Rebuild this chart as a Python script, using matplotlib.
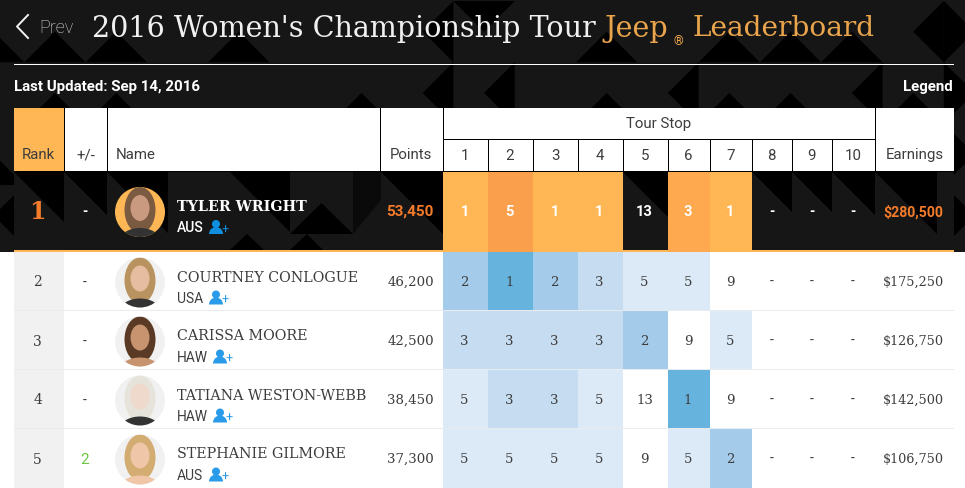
import matplotlib
matplotlib.use("Agg")
import matplotlib.pyplot as plt
from matplotlib.patches import Rectangle, Polygon, Circle, Ellipse, Wedge

# ---------- data ----------
ranks = [1, 2, 3, 4, 5]
changes = ["-", "-", "-", "-", "2"]
names = ["TYLER WRIGHT", "COURTNEY CONLOGUE", "CARISSA MOORE", "TATIANA WESTON-WEBB", "STEPHANIE GILMORE"]
countries = ["AUS", "USA", "HAW", "HAW", "AUS"]
points = ["53,450", "46,200", "42,500", "38,450", "37,300"]
earnings = ["$280,500", "$175,250", "$126,750", "$142,500", "$106,750"]
stops = [
    [1, 5, 1, 1, 13, 3, 1],
    [2, 1, 2, 3, 5, 5, 9],
    [3, 3, 3, 3, 2, 9, 5],
    [5, 3, 3, 5, 13, 1, 9],
    [5, 5, 5, 5, 9, 5, 2],
]
next_row_stops = [3, 5, 9, 5, 1, 9, 5]
stop_labels = [str(i) for i in range(1, 11)]

# ---------- style ----------
blue = {1: "#66b3de", 2: "#a4cbea", 3: "#c6ddf1", 5: "#dceaf7", 9: "#ffffff", 13: "#ffffff"}
orange = {1: "#ffb655", 3: "#fea84f", 5: "#fa9f4c"}
INK = "#3d3d3d"
ORANGE_TXT = "#f47b2a"
SANS = "Roboto"
SLAB = "DejaVu Serif"

col_edges = [443, 488, 533, 578, 623, 668, 710, 752, 792, 832, 875]
row_tops = [172, 252, 311, 370, 429, 488.5]
hair = ["#7a5a40", "#b9935f", "#5a3a24", "#e6e3da", "#d3ac72"]
skin = ["#c99a80", "#e6bda0", "#c8946f", "#efd9cc", "#efc6a8"]

fig = plt.figure(figsize=(9.65, 4.89), dpi=100)
ax = fig.add_axes([0, 0, 1, 1])
ax.set_xlim(0, 965)
ax.set_ylim(488, -1)
ax.axis("off")


def rect(x0, y0, x1, y1, c, z=1):
    ax.add_patch(Rectangle((x0, y0), x1 - x0, y1 - y0, fc=c, ec="none", lw=0, zorder=z, antialiased=False))


def txt(x, y, s, size=10, color=INK, ha="center", family=SANS, weight="normal", z=6):
    return ax.text(x, y, s, fontsize=size, color=color, ha=ha, va="center", family=family, weight=weight, zorder=z)


def black(pts, z=0.5, c="#000000"):
    ax.add_patch(Polygon(pts, fc=c, ec="none", zorder=z))


# ---------- background tiles ----------
rect(0, 0, 965, 252, "#161616", 0)
T = 61.3
X0, Y0 = -37.0, 1.0
tiles = [
    "bbbnbnnrtnbnbbbrl",
    "nbbnnnbrrnbrbbrbl",
    "bnnbnnbnnbnnbnnbl",
    "rnnnnnnnnnnnnnnnl",
    "nnnbbnbbnnbbbnbbn",
]
for j, row in enumerate(tiles):
    for i, k in enumerate(row):
        x, y = X0 + i * T, Y0 + j * T
        a, b, c, d = (x, y), (x + T, y), (x + T, y + T), (x, y + T)
        m = (x + T / 2, y + T / 2)
        tri = {"b": [d, c, m], "t": [a, b, m], "l": [a, d, m], "r": [b, c, m]}.get(k)
        if tri:
            black(tri)

# band of the leader's row: every cell repeats the pattern from its own corner
rect(14, 172, 954, 250, "#161616", 0.6)
band_cells = [(14, 64), (64, 107), (107, 168), (230, 290), (381, 443), (623, 668), (752, 792), (792, 832), (832, 875), (875, 937)]
for x0, x1 in band_cells:
    w = x1 - x0
    black([(x0, 172), (x1, 172), (x1, 172 + w)], z=0.7)
black([(290, 234), (353, 234), (321.5, 203)], z=0.7)
black([(353, 172), (381, 172), (381, 200), (353, 234)], z=0.7, c="#0a0a0a")
black([(230, 250), (247, 234), (264, 250)], z=0.7)
black([(290, 250), (307, 234), (323, 250)], z=0.7)

# ---------- title ----------
ax.plot([28, 17, 28], [15, 26.5, 38], color="#f2f2f2", lw=1.4, zorder=6)
txt(39, 27, "Prev", 13, "#dddddd", ha="left", family=SANS, weight="light")
txt(92, 28, "2016 Women's Championship Tour", 20.6, "#f0f0f0", ha="left", family=SLAB)
txt(604, 28, "Jeep", 20.6, "#eaa54c", ha="left", family=SLAB)
txt(673, 41, "®", 9, "#eaa54c", ha="left", family=SANS)
txt(693, 28, "Leaderboard", 20.2, "#eaa54c", ha="left", family=SLAB)
rect(14, 64, 954, 65, "#ffffff", 3)
txt(14, 86, "Last Updated: Sep 14, 2016", 10.8, "#ffffff", ha="left", weight="bold")
txt(953, 86, "Legend", 10.8, "#ffffff", ha="right", weight="bold")

# ---------- header ----------
rect(14, 108, 954, 171, "#ffffff", 2)
rect(14, 108, 64, 171, "#ffb655", 2.5)
for x in [64, 107, 380] + col_edges:
    y_top = 139 if x in col_edges[1:-1] else 108
    rect(x, y_top, x + 1, 171, "#000000", 3)
rect(443, 139, 875, 140, "#000000", 3)
rect(14, 171, 954, 172, "#000000", 3)
h_y = 154
HS = 10.8
txt(38.5, h_y, "Rank", HS)
txt(85.5, h_y, "+/-", HS)
txt(116, h_y, "Name", HS, ha="left")
txt(411, h_y, "Points", HS)
txt(658.5, 123, "Tour Stop", HS)
txt(914.5, h_y, "Earnings", HS)
for i, lab in enumerate(stop_labels):
    txt((col_edges[i] + col_edges[i + 1]) / 2 - 0.5, h_y + 0.5, lab, HS)

# ---------- body ----------
rect(0, 252, 965, 490, "#ffffff", 1)
rect(14, 250, 954, 252, "#ffb655", 4)
rect(14, 252, 64, 490, "#f1f1f1", 1.5)


def person(x, y, c):
    ax.add_patch(Circle((x + 6, y - 3), 4, fc=c, ec="none", zorder=6))
    ax.add_patch(Wedge((x + 6, y + 7), 7, 180, 360, fc=c, ec="none", zorder=6))
    ax.text(x + 15, y + 2, "+", fontsize=9, color=c, ha="center", va="center", family=SANS, zorder=6)


def avatar(cx, cy, i):
    bg = "#ffb655" if i == 0 else "#f1f1f1"
    clip = Circle((cx, cy), 25, fc=bg, ec="none", zorder=5)
    ax.add_patch(clip)
    shapes = [
        Ellipse((cx, cy - 2), 31, 46, fc=hair[i], ec="none", zorder=5.1),
        Ellipse((cx, cy + 27), 38, 22, fc=skin[i] if i in (2, 4) else "#333333", ec="none", zorder=5.2),
        Ellipse((cx, cy - 4), 19, 26, fc=skin[i], ec="none", zorder=5.3),
    ]
    for s in shapes:
        ax.add_patch(s)
        s.set_clip_path(clip)


for r, tops in enumerate(stops):
    y0, y1 = row_tops[r], row_tops[r + 1]
    first = r == 0
    cy = 211 if first else y0 + 29.5
    sep_end = y1 - 1 if not first else 250
    for c, v in enumerate(tops):
        x0, x1 = col_edges[c], col_edges[c + 1]
        if first:
            if v in orange:
                rect(x0, y0, x1, 252, orange[v], 4.5)
            txt((x0 + x1) / 2 - 1, cy, str(v), 10.5, "#ffffff", weight="bold")
        else:
            rect(x0, y0, x1, sep_end, blue[v], 2)
            txt((x0 + x1) / 2 - 1, cy, str(v), 9.5, INK, family=SLAB)
    for c in range(7, 10):
        x0, x1 = col_edges[c], col_edges[c + 1]
        txt((x0 + x1) / 2 - 0.5, cy - 0.5, "-", 10, "#ffffff" if first else INK, weight="bold" if first else "normal")
    if not first:
        rect(14, y1 - 1, 954, y1, "#e8ecef", 3)

    main = ORANGE_TXT if first else INK
    txt(37.5, cy, str(ranks[r]), 17 if first else 10, main, family=SLAB, weight="bold" if first else "normal")
    ch_col = "#ffffff" if first else ("#6cc644" if changes[r] != "-" else INK)
    txt(84.5, cy, changes[r], 11 if changes[r] != "-" else 10, ch_col, weight="bold" if first else "normal")
    avatar(140, cy + 1, r)
    txt(177, cy - 5, names[r], 10.3, "#ffffff" if first else INK, ha="left", family=SLAB,
        weight="bold" if first else "normal")
    txt(177, cy + 16.5, countries[r], 10, "#ffffff" if first else INK, ha="left", weight="medium" if first else "normal")
    icon_x = 214 if countries[r] == "HAW" else 210
    person(icon_x, cy + 16, "#0f8fe0" if first else "#2a9be8")
    if first:
        txt(434, cy, points[r], 11, main, ha="right", weight="bold")
        txt(943, cy, earnings[r], 10.2, main, ha="right", weight="bold")
    else:
        txt(434, cy, points[r], 9.6, main, ha="right", family=SLAB)
        txt(943.5, cy, earnings[r], 9.2, main, ha="right", family=SLAB)

# sliver of the next row at the lower edge
for c, v in enumerate(next_row_stops):
    rect(col_edges[c], row_tops[5], col_edges[c + 1], 490, blue[v], 4)

fig.savefig("out.png", dpi=100, facecolor="white")
